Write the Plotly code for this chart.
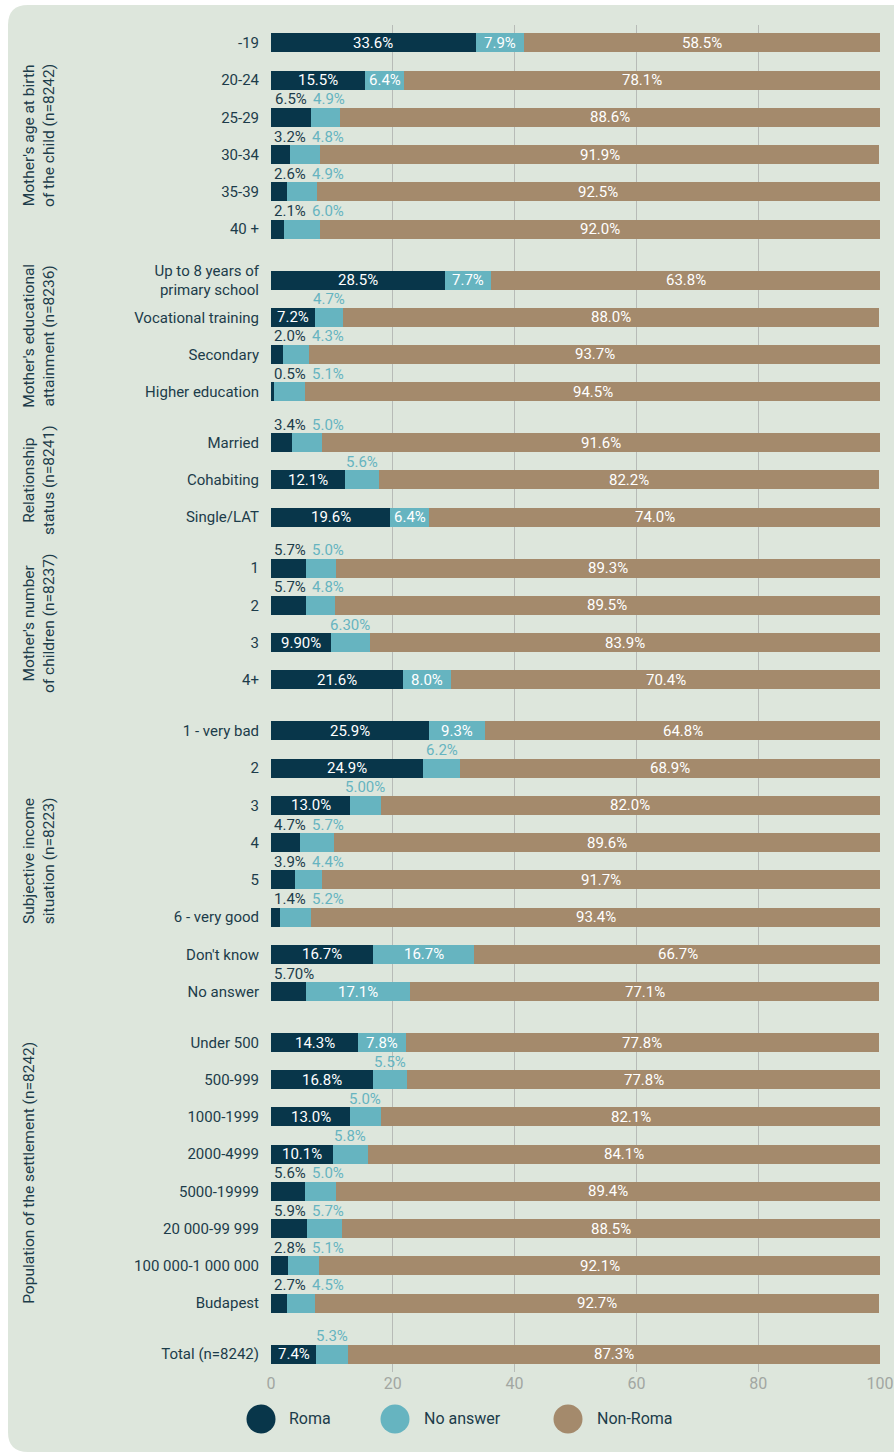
import plotly.graph_objects as go

# ---- data -------------------------------------------------------------
group_titles = [
    "Mother's age at birth<br>of the child (n=8242)",
    "Mother's educational<br>attainment (n=8236)",
    "Relationship<br>status (n=8241)",
    "Mother's number<br>of children (n=8237)",
    "Subjective income<br>situation (n=8223)",
    "Population of the settlement (n=8242)",
    "",
]

age_cats = ["-19", "20-24", "25-29", "30-34", "35-39", "40 +"]
age_roma = ["33.6", "15.5", "6.5", "3.2", "2.6", "2.1"]
age_noans = ["7.9", "6.4", "4.9", "4.8", "4.9", "6.0"]
age_nonroma = ["58.5", "78.1", "88.6", "91.9", "92.5", "92.0"]

edu_cats = ["Up to 8 years of<br>primary school", "Vocational training",
            "Secondary", "Higher education"]
edu_roma = ["28.5", "7.2", "2.0", "0.5"]
edu_noans = ["7.7", "4.7", "4.3", "5.1"]
edu_nonroma = ["63.8", "88.0", "93.7", "94.5"]

rel_cats = ["Married", "Cohabiting", "Single/LAT"]
rel_roma = ["3.4", "12.1", "19.6"]
rel_noans = ["5.0", "5.6", "6.4"]
rel_nonroma = ["91.6", "82.2", "74.0"]

kids_cats = ["1", "2", "3", "4+"]
kids_roma = ["5.7", "5.7", "9.90", "21.6"]
kids_noans = ["5.0", "4.8", "6.30", "8.0"]
kids_nonroma = ["89.3", "89.5", "83.9", "70.4"]

inc_cats = ["1 - very bad", "2", "3", "4", "5", "6 - very good",
            "Don't know", "No answer"]
inc_roma = ["25.9", "24.9", "13.0", "4.7", "3.9", "1.4", "16.7", "5.70"]
inc_noans = ["9.3", "6.2", "5.00", "5.7", "4.4", "5.2", "16.7", "17.1"]
inc_nonroma = ["64.8", "68.9", "82.0", "89.6", "91.7", "93.4", "66.7", "77.1"]

pop_cats = ["Under 500", "500-999", "1000-1999", "2000-4999", "5000-19999",
            "20 000-99 999", "100 000-1 000 000", "Budapest"]
pop_roma = ["14.3", "16.8", "13.0", "10.1", "5.6", "5.9", "2.8", "2.7"]
pop_noans = ["7.8", "5.5", "5.0", "5.8", "5.0", "5.7", "5.1", "4.5"]
pop_nonroma = ["77.8", "77.8", "82.1", "84.1", "89.4", "88.5", "92.1", "92.7"]

total_cats = ["Total (n=8242)"]
total_roma = ["7.4"]
total_noans = ["5.3"]
total_nonroma = ["87.3"]

x_ticks = [0, 20, 40, 60, 80, 100]
legend_names = ["Roma", "No answer", "Non-Roma"]

# ---- styling ----------------------------------------------------------
C_ROMA = "#08364a"
C_NOANS = "#66b4c0"
C_NONROMA = "#a48a6c"
C_TEXT = "#1c3c4a"
C_PANEL = "#dde6dc"
C_GRID = "#b7bbb7"
C_TICK = "#a2a7a2"
FONT = "Roboto"

W, H = 894, 1453
M_L, M_R, M_T, M_B = 271, 14, 25, 81
PLOT_W = W - M_L - M_R
PLOT_H = H - M_T - M_B
PX_PER_UNIT = PLOT_W / 100.0
GROUP_GAP = 0.37
BAR_W = 0.51
PAD = 0.48

groups = [
    (age_cats, age_roma, age_noans, age_nonroma),
    (edu_cats, edu_roma, edu_noans, edu_nonroma),
    (rel_cats, rel_roma, rel_noans, rel_nonroma),
    (kids_cats, kids_roma, kids_noans, kids_nonroma),
    (inc_cats, inc_roma, inc_noans, inc_nonroma),
    (pop_cats, pop_roma, pop_noans, pop_nonroma),
    (total_cats, total_roma, total_noans, total_nonroma),
]

cats, roma, noans, nonroma, pos = [], [], [], [], []
group_spans = []
p = 0.0
for cs, r, n, o in groups:
    start = p
    for k in range(len(cs)):
        cats.append(cs[k])
        roma.append(r[k])
        noans.append(n[k])
        nonroma.append(o[k])
        pos.append(p)
        p += 1.0
    group_spans.append((start, p - 1.0))
    p += GROUP_GAP
last_pos = pos[-1]
y_range = [last_pos + PAD, -PAD]

roma_v = [float(s) for s in roma]
noans_v = [float(s) for s in noans]
nonroma_v = [float(s) for s in nonroma]

fig = go.Figure()
for vals, color, name in [(roma_v, C_ROMA, legend_names[0]),
                          (noans_v, C_NOANS, legend_names[1]),
                          (nonroma_v, C_NONROMA, legend_names[2])]:
    fig.add_trace(go.Bar(y=pos, x=vals, orientation="h", width=BAR_W,
                         marker=dict(color=color, line=dict(width=0)),
                         name=name, showlegend=False, hoverinfo="x+name"))


def text_width(s, fs=14):
    w = 0.0
    for ch in s:
        if ch.isdigit():
            w += 0.555 * fs
        elif ch == ".":
            w += 0.26 * fs
        elif ch == "%":
            w += 0.78 * fs
        else:
            w += 0.5 * fs
    return w


annotations = []
VAL_FS = 15
ABOVE_SHIFT = 18


def val_label(x, y, text, color, yshift=0):
    annotations.append(dict(x=x, y=y, xref="x", yref="y", text=text,
                            showarrow=False, xanchor="center", yanchor="middle",
                            yshift=yshift,
                            font=dict(family=FONT, size=VAL_FS, color=color)))


for i in range(len(pos)):
    r, n, o = roma_v[i], noans_v[i], nonroma_v[i]
    lr, ln, lo = roma[i] + "%", noans[i] + "%", nonroma[i] + "%"
    y = pos[i]
    roma_out = r < 7.0
    roma_right = None
    if not roma_out:
        val_label(r / 2, y, lr, "white")
    else:
        w = text_width(lr, VAL_FS)
        cx = max(r / 2, (w / 2 + 3) / PX_PER_UNIT)
        roma_right = cx + (w / 2) / PX_PER_UNIT
        val_label(cx, y, lr, C_TEXT, ABOVE_SHIFT)
    if n >= 6.4:
        val_label(r + n / 2, y, ln, "white")
    else:
        w = text_width(ln, VAL_FS)
        cx = r + n / 2
        if roma_right is not None:
            cx = max(cx, roma_right + (6 + w / 2) / PX_PER_UNIT)
        val_label(cx, y, ln, C_NOANS, ABOVE_SHIFT)
    val_label(r + n + o / 2, y, lo, "white")

# group titles, rotated, to the left of the category labels
for title, (a, b) in zip(group_titles, group_spans):
    if not title:
        continue
    mid = (a + b) / 2
    annotations.append(dict(x=(18 - M_L) / PLOT_W, y=mid, xref="paper", yref="y",
                            text=title, showarrow=False, textangle=-90,
                            xanchor="left", yanchor="middle", align="center",
                            font=dict(family=FONT, size=15.5, color=C_TEXT)))

# legend: circles with labels below the axis
shapes = []
legend_y = (M_T + PLOT_H - 1419) / PLOT_H
legend_items = [(261, 287), (395, 422), (568, 595)]
for (cx_px, tx_px), color, name in zip(legend_items,
                                       [C_ROMA, C_NOANS, C_NONROMA],
                                       legend_names):
    shapes.append(dict(type="circle", xref="paper", yref="paper",
                       xsizemode="pixel", ysizemode="pixel",
                       xanchor=(cx_px - M_L) / PLOT_W, yanchor=legend_y,
                       x0=-14.5, x1=14.5, y0=-14.5, y1=14.5,
                       fillcolor=color, line=dict(width=0), layer="above"))
    annotations.append(dict(x=(tx_px - M_L) / PLOT_W, y=legend_y,
                            xref="paper", yref="paper", text=name,
                            showarrow=False, xanchor="left", yanchor="middle",
                            font=dict(family=FONT, size=16, color=C_TEXT)))


# rounded panel behind the chart
def P(x, y):
    a = (x - M_L) / PLOT_W
    b = (M_T + PLOT_H - y) / PLOT_H
    return f"{a:.6f},{b:.6f}"


x0p, y0p, x1p, y1p, rad = 8, 5, 912, 1452, 20
path = (f"M {P(x0p + rad, y0p)} L {P(x1p - rad, y0p)} Q {P(x1p, y0p)} {P(x1p, y0p + rad)} "
        f"L {P(x1p, y1p - rad)} Q {P(x1p, y1p)} {P(x1p - rad, y1p)} "
        f"L {P(x0p + rad, y1p)} Q {P(x0p, y1p)} {P(x0p, y1p - rad)} "
        f"L {P(x0p, y0p + rad)} Q {P(x0p, y0p)} {P(x0p + rad, y0p)} Z")
shapes.insert(0, dict(type="path", xref="paper", yref="paper", path=path,
                      fillcolor=C_PANEL, line=dict(width=0), layer="below"))

fig.update_layout(
    width=W, height=H,
    margin=dict(l=M_L, r=M_R, t=M_T, b=M_B, pad=0, autoexpand=False),
    barmode="stack",
    bargap=0,
    paper_bgcolor="white",
    plot_bgcolor="rgba(0,0,0,0)",
    showlegend=False,
    annotations=annotations,
    shapes=shapes,
    font=dict(family=FONT, color=C_TEXT),
    xaxis=dict(range=[0, 100], tickvals=x_ticks, ticktext=[str(t) for t in x_ticks],
               showgrid=True, gridcolor=C_GRID, gridwidth=1.2,
               zeroline=False, showline=False, ticks="", automargin=False,
               tickfont=dict(family=FONT, size=16, color=C_TICK),
               fixedrange=True),
    yaxis=dict(range=y_range, tickvals=pos, ticktext=cats, showgrid=False,
               zeroline=False, showline=False, ticks="outside", ticklen=8,
               tickcolor="rgba(0,0,0,0)", automargin=False,
               tickfont=dict(family=FONT, size=15, color=C_TEXT),
               fixedrange=True),
)

fig.write_html("out.html")
